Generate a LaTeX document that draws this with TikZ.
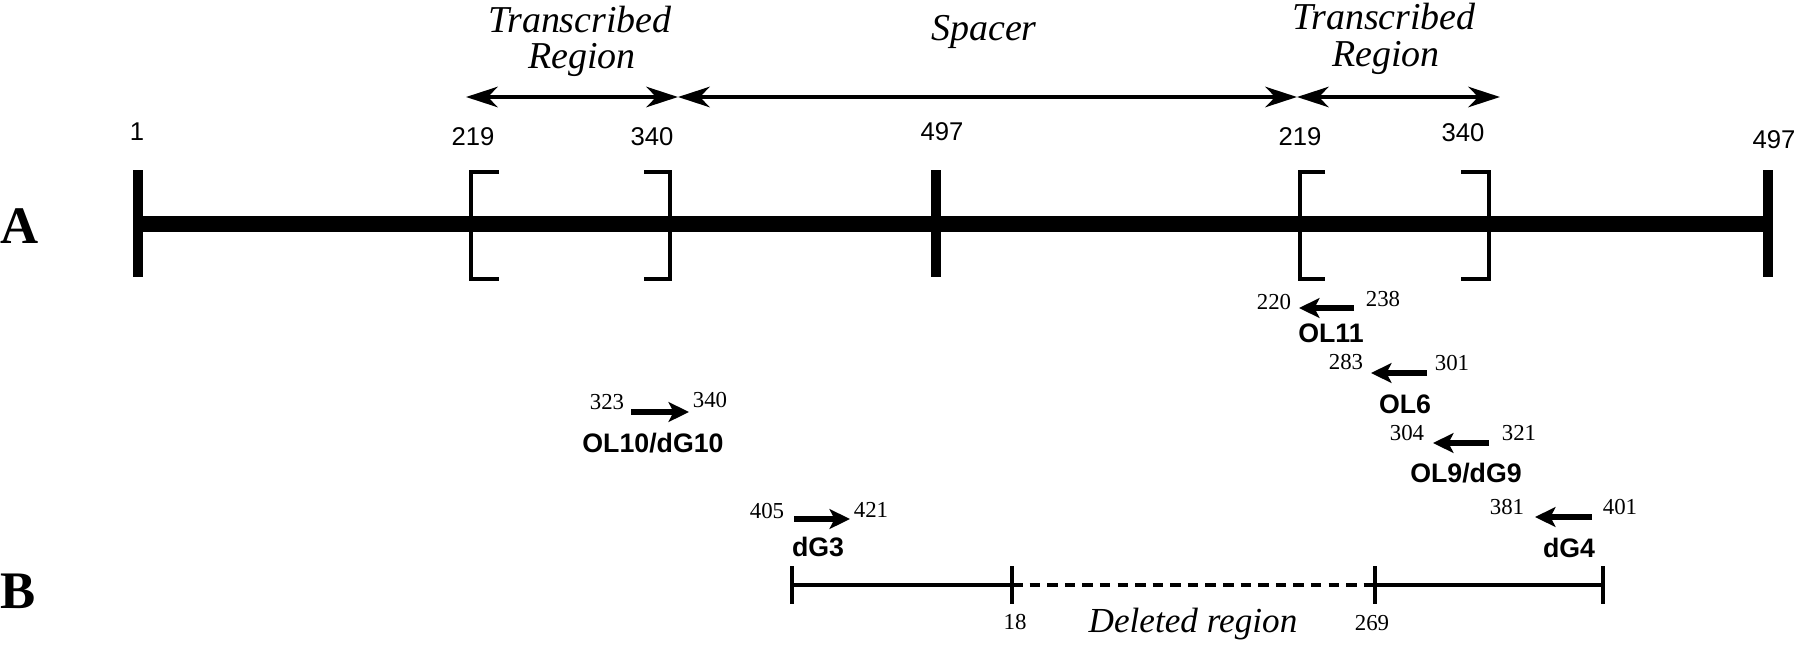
\documentclass[tikz,border=0pt]{standalone}
\usepackage{fontspec}
\setmainfont{Liberation Serif}
\setsansfont{Liberation Sans}
\usetikzlibrary{arrows.meta}
\begin{document}
\begin{tikzpicture}[x=0.01cm,y=-0.01cm,
  mainline/.style={line width=4.7pt},
  bigtick/.style={line width=2.9pt},
  brack/.style={line width=1.4pt},
  span/.style={line width=1.3pt,{Stealth[length=9pt,width=5.8pt,inset=2.8pt]}-{Stealth[length=9pt,width=5.8pt,inset=2.8pt]}},
  primer/.style={line width=1.6pt,-{Stealth[length=5.8pt,width=5.6pt,inset=1.4pt]}},
  thinline/.style={line width=0.9pt},
  dashline/.style={line width=0.9pt,dash pattern=on 3pt off 2pt},
  numtop/.style={font=\sffamily\fontsize{7.3}{8}\selectfont,inner sep=0pt},
  numsm/.style={font=\fontsize{6.5}{7}\selectfont,inner sep=0pt},
  plabel/.style={font=\sffamily\bfseries\fontsize{7.6}{9}\selectfont,inner sep=0pt},
  region/.style={font=\itshape\fontsize{10.8}{12}\selectfont,inner sep=0pt},
  letter/.style={font=\bfseries\fontsize{15}{17}\selectfont,inner sep=0pt}
]
\useasboundingbox (0,0) rectangle (1800,645);

% ---------- line A ----------
\coordinate (mL) at (138,224);
\coordinate (mR) at (1768,224);
\draw[mainline] (mL) -- (mR);
\foreach \n/\x in {t1/138,t2/936,t3/1768}{
  \coordinate (\n a) at (\x,170);
  \coordinate (\n b) at (\x,277);
  \draw[bigtick] (\n a) -- (\n b);
}
% brackets
\foreach \n/\x/\s in {b1/471/499,b3/1300/1325}{
  \coordinate (\n a) at (\s,172);
  \coordinate (\n b) at (\x,172);
  \coordinate (\n c) at (\x,279);
  \coordinate (\n d) at (\s,279);
  \draw[brack] (\n a) -- (\n b) -- (\n c) -- (\n d);
}
\foreach \n/\x/\s in {b2/670/644,b4/1489/1461}{
  \coordinate (\n a) at (\s,172);
  \coordinate (\n b) at (\x,172);
  \coordinate (\n c) at (\x,279);
  \coordinate (\n d) at (\s,279);
  \draw[brack] (\n a) -- (\n b) -- (\n c) -- (\n d);
}

% position labels
\node[numtop] (l1) at (137,132) {1};
\node[numtop] (l219a) at (473,137) {219};
\node[numtop] (l340a) at (652,137) {340};
\node[numtop] (l497a) at (942,132) {497};
\node[numtop] (l219b) at (1300,137) {219};
\node[numtop] (l340b) at (1463,133) {340};
\node[numtop] (l497b) at (1774,140) {497};

% span arrows
\coordinate (s0) at (466,97);
\coordinate (s1) at (678,97);
\coordinate (s2) at (1297,97);
\coordinate (s3) at (1500,97);
\draw[span] (s0) -- (s1);
\draw[span] (s1) -- (s2);
\draw[span] (s2) -- (s3);
\node[region] (tr1a) at (580,20) {Transcribed};
\node[region] (tr1b) at (582,60) {Region};
\node[region] (sp) at (984,32) {Spacer};
\node[region] (tr2a) at (1384,17) {Transcribed};
\node[region] (tr2b) at (1386,58) {Region};

\node[letter] (A) at (20,226) {A};
\node[letter] (B) at (18,591) {B};

% ---------- primers ----------
% OL11
\coordinate (p1s) at (1354,308); \coordinate (p1e) at (1299,308);
\draw[primer] (p1s) -- (p1e);
\node[numsm] (p1a) at (1274,302) {220};
\node[numsm] (p1b) at (1383,299) {238};
\node[plabel] (p1l) at (1331,333) {OL11};
% OL6
\coordinate (p2s) at (1427,373); \coordinate (p2e) at (1371,373);
\draw[primer] (p2s) -- (p2e);
\node[numsm] (p2a) at (1346,362) {283};
\node[numsm] (p2b) at (1452,363) {301};
\node[plabel] (p2l) at (1405,404) {OL6};
% OL9/dG9
\coordinate (p3s) at (1489,443); \coordinate (p3e) at (1433,443);
\draw[primer] (p3s) -- (p3e);
\node[numsm] (p3a) at (1407,433) {304};
\node[numsm] (p3b) at (1519,433) {321};
\node[plabel] (p3l) at (1466,473) {OL9/dG9};
% dG4
\coordinate (p4s) at (1592,517); \coordinate (p4e) at (1535,517);
\draw[primer] (p4s) -- (p4e);
\node[numsm] (p4a) at (1507,507) {381};
\node[numsm] (p4b) at (1620,507) {401};
\node[plabel] (p4l) at (1569,548) {dG4};
% OL10/dG10
\coordinate (p5s) at (631,412); \coordinate (p5e) at (689,412);
\draw[primer] (p5s) -- (p5e);
\node[numsm] (p5a) at (607,402) {323};
\node[numsm] (p5b) at (710,400) {340};
\node[plabel] (p5l) at (653,443) {OL10/dG10};
% dG3
\coordinate (p6s) at (794,519); \coordinate (p6e) at (850,519);
\draw[primer] (p6s) -- (p6e);
\node[numsm] (p6a) at (767,511) {405};
\node[numsm] (p6b) at (871,510) {421};
\node[plabel] (p6l) at (818,547) {dG3};

% ---------- line B ----------
\foreach \n/\x in {k1/792,k2/1012,k3/1375,k4/1603}{
  \coordinate (\n) at (\x,585);
  \coordinate (\n a) at (\x,566);
  \coordinate (\n b) at (\x,604);
  \draw[thinline] (\n a) -- (\n b);
}
\draw[thinline] (k1) -- (k2);
\draw[dashline] (k2) -- (k3);
\draw[thinline] (k3) -- (k4);
\node[numsm] (n18) at (1015,622) {18};
\node[numsm] (n269) at (1372,623) {269};
\node[font=\itshape\fontsize{10}{12}\selectfont,inner sep=0pt] (del) at (1193,624) {Deleted region};
\end{tikzpicture}
\end{document}
